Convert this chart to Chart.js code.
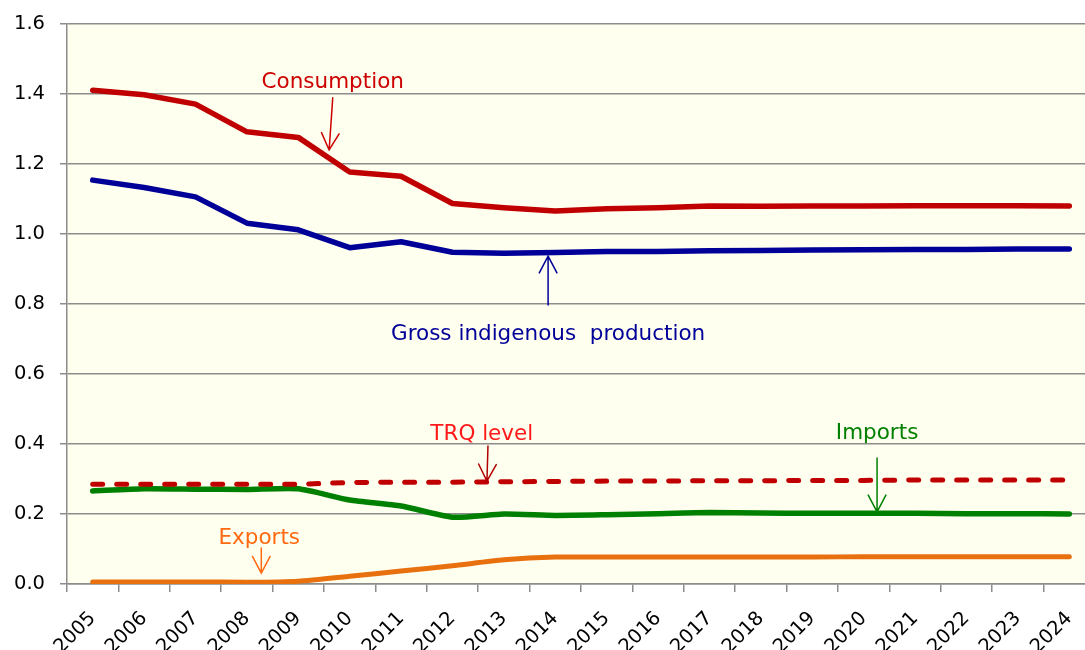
<!DOCTYPE html>
<html>
<head>
<meta charset="utf-8">
<script src="https://cdn.jsdelivr.net/npm/chart.js@4/dist/chart.umd.min.js"></script>
<style>
  html, body { margin: 0; padding: 0; background: #ffffff; overflow: hidden; }
  #wrap { position: relative; width: 1096px; height: 650px; }
</style>
</head>
<body>
<div id="wrap"><canvas id="chart"></canvas></div>
<script>
// Years on the horizontal axis
const years = ['2005','2006','2007','2008','2009','2010','2011','2012','2013','2014',
               '2015','2016','2017','2018','2019','2020','2021','2022','2023','2024'];

// Series (million tonnes)
const consumption = [1.411, 1.398, 1.371, 1.292, 1.276, 1.177, 1.165, 1.087, 1.075, 1.066,
                     1.072, 1.075, 1.080, 1.079, 1.080, 1.080, 1.081, 1.081, 1.081, 1.080];
const production  = [1.154, 1.133, 1.106, 1.031, 1.012, 0.961, 0.978, 0.948, 0.945, 0.947,
                     0.950, 0.950, 0.952, 0.953, 0.954, 0.955, 0.956, 0.956, 0.957, 0.957];
const trqLevel    = [0.285, 0.285, 0.285, 0.285, 0.285, 0.290, 0.291, 0.291, 0.292, 0.293,
                     0.294, 0.294, 0.295, 0.295, 0.296, 0.296, 0.297, 0.297, 0.297, 0.297];
const imports     = [0.266, 0.272, 0.271, 0.270, 0.272, 0.240, 0.223, 0.191, 0.200, 0.196,
                     0.198, 0.201, 0.204, 0.203, 0.202, 0.202, 0.202, 0.201, 0.201, 0.200];
const exports     = [0.006, 0.006, 0.006, 0.005, 0.008, 0.022, 0.037, 0.052, 0.069, 0.077,
                     0.077, 0.077, 0.077, 0.077, 0.077, 0.078, 0.078, 0.078, 0.078, 0.078];

// Value axis ticks
const yTicks = [0.0, 0.2, 0.4, 0.6, 0.8, 1.0, 1.2, 1.4, 1.6];

// Callout labels: text, colour, label anchor and arrow (category index, value)
const callouts = [
  { text: 'Consumption', color: '#cc0000', arrowColor: '#cc0000',
    at: [4.67, 1.417], from: [4.67, 1.389], to: [4.60, 1.240] },
  { text: 'Gross indigenous  production', color: '#000099', arrowColor: '#000099',
    at: [8.86, 0.697], from: [8.86, 0.797], to: [8.86, 0.937] },
  { text: 'TRQ level', color: '#ff1a1a', arrowColor: '#b00000',
    at: [7.57, 0.411], from: [7.69, 0.394], to: [7.67, 0.294] },
  { text: 'Imports', color: '#008000', arrowColor: '#008000',
    at: [15.26, 0.414], from: [15.26, 0.360], to: [15.26, 0.206] },
  { text: 'Exports', color: '#ff6a10', arrowColor: '#ff6a10',
    at: [3.24, 0.114], from: [3.28, 0.103], to: [3.28, 0.031] }
];

const FONT = 'DejaVu Sans, Verdana, sans-serif';

// Ivory plot background
const plotBackground = {
  id: 'plotBackground',
  beforeDraw(chart) {
    const { ctx, chartArea: a } = chart;
    ctx.save();
    ctx.fillStyle = '#fffff0';
    ctx.fillRect(a.left, a.top, a.right - a.left, a.bottom - a.top);
    ctx.restore();
  }
};

// Text callouts with open arrowheads
const calloutPlugin = {
  id: 'callouts',
  afterDatasetsDraw(chart) {
    const { ctx, scales: { x, y } } = chart;
    ctx.save();
    callouts.forEach(c => {
      const fx = x.getPixelForValue(c.from[0]), fy = y.getPixelForValue(c.from[1]);
      const tx = x.getPixelForValue(c.to[0]),   ty = y.getPixelForValue(c.to[1]);
      ctx.strokeStyle = c.arrowColor;
      ctx.lineWidth = 1.5;
      ctx.lineCap = 'round';
      ctx.beginPath();
      ctx.moveTo(fx, fy);
      ctx.lineTo(tx, ty);
      const ang = Math.atan2(ty - fy, tx - fx);
      const len = 19, spread = Math.PI / 6.5;
      ctx.moveTo(tx - len * Math.cos(ang - spread), ty - len * Math.sin(ang - spread));
      ctx.lineTo(tx, ty);
      ctx.lineTo(tx - len * Math.cos(ang + spread), ty - len * Math.sin(ang + spread));
      ctx.stroke();

      ctx.fillStyle = c.color;
      ctx.font = '21.5px ' + FONT;
      ctx.textAlign = 'center';
      ctx.textBaseline = 'alphabetic';
      ctx.fillText(c.text, x.getPixelForValue(c.at[0]), y.getPixelForValue(c.at[1]));
    });
    ctx.restore();
  }
};

function line(label, data, color, extra) {
  return Object.assign({
    label, data,
    borderColor: color,
    backgroundColor: color,
    borderWidth: 5.5,
    pointRadius: 0,
    pointHoverRadius: 0,
    fill: false,
    tension: 0,
    borderCapStyle: 'round',
    borderJoinStyle: 'round'
  }, extra || {});
}

new Chart(document.getElementById('chart'), {
  type: 'line',
  data: {
    labels: years,
    datasets: [
      line('Consumption', consumption, '#c00000'),
      line('Gross indigenous production', production, '#000099'),
      line('TRQ level', trqLevel, '#c00000', { borderWidth: 5, borderDash: [10, 14], borderCapStyle: 'round' }),
      line('Imports', imports, '#008000', { tension: 0.2 }),
      line('Exports', exports, '#e8700f', { borderWidth: 5, tension: 0.2 })
    ]
  },
  options: {
    responsive: true,
    maintainAspectRatio: false,
    animation: false,
    events: [],
    layout: { padding: { top: 24, right: 1, left: 0, bottom: 0 } },
    plugins: {
      legend: { display: false },
      tooltip: { enabled: false }
    },
    scales: {
      x: {
        type: 'category',
        offset: true,
        grid: {
          offset: true,
          drawOnChartArea: false,
          drawTicks: true,
          tickLength: 8,
          color: '#8c8c8c',
          lineWidth: 1.5
        },
        border: { display: true, color: '#8c8c8c', width: 1.5 },
        ticks: {
          autoSkip: false,
          maxRotation: 45,
          minRotation: 45,
          padding: 15,
          color: '#000000',
          font: { family: FONT, size: 19.5 }
        },
        afterFit(scale) {
          scale.height = 650 - 584;
          scale.paddingLeft = 0;
          scale.paddingRight = 0;
        }
      },
      y: {
        min: 0,
        max: 1.6,
        afterBuildTicks(scale) { scale.ticks = yTicks.map(v => ({ value: v })); },
        grid: {
          drawOnChartArea: true,
          drawTicks: true,
          tickLength: 7,
          color: '#8c8c8c',
          lineWidth: 1.5
        },
        border: { display: true, color: '#8c8c8c', width: 1.5 },
        ticks: {
          padding: 15,
          color: '#000000',
          font: { family: FONT, size: 19.5 },
          callback: v => Number(v).toFixed(1)
        },
        afterFit(scale) {
          scale.width = 67;
          scale.paddingTop = 0;
          scale.paddingBottom = 0;
        }
      }
    }
  },
  plugins: [plotBackground, calloutPlugin]
});
</script>
</body>
</html>
